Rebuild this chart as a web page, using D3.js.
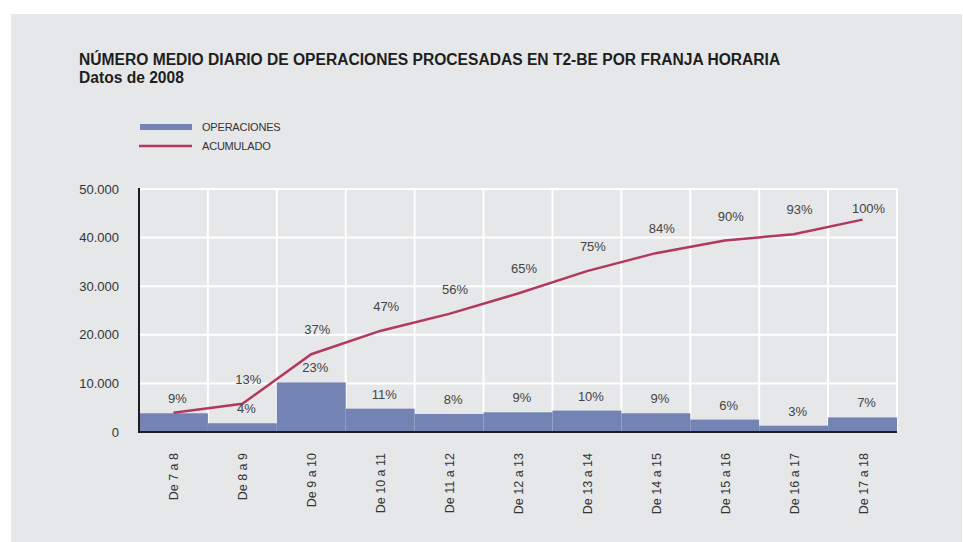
<!DOCTYPE html>
<html>
<head>
<meta charset="utf-8">
<script src="https://cdn.jsdelivr.net/npm/d3@7"></script>
<style>
  body { margin: 0; background: #fff; }
  svg { display: block; font-family: "Liberation Sans", Arial, sans-serif; }
</style>
</head>
<body>
<svg id="chart" width="963" height="542"></svg>
<script>
const categories = ["De 7 a 8", "De 8 a 9", "De 9 a 10", "De 10 a 11", "De 11 a 12", "De 12 a 13",
    "De 13 a 14", "De 14 a 15", "De 15 a 16", "De 16 a 17", "De 17 a 18"];
const operaciones = [3850, 1800, 10200, 4800, 3700, 4050, 4400, 3850, 2550, 1300, 3000];
const acumulado = [3950, 5800, 16000, 20800, 24300, 28500, 33100, 36800, 39400, 40700, 43700];
const pctOperaciones = ["9%", "4%", "23%", "11%", "8%", "9%", "10%", "9%", "6%", "3%", "7%"];
const pctAcumulado = ["", "13%", "37%", "47%", "56%", "65%", "75%", "84%", "90%", "93%", "100%"];
const yTicks = [0, 10000, 20000, 30000, 40000, 50000];

const svg = d3.select("#chart");
const margin = { top: 189, left: 139, right: 66, bottom: 110 };
const width = 963, height = 542;
const chartWidth = width - margin.left - margin.right;
const chartHeight = height - margin.top - margin.bottom;

svg.append("rect")
    .attr("x", 11).attr("y", 14)
    .attr("width", 951).attr("height", 528)
    .attr("fill", "#e6e7e9");

// titles
svg.append("text").attr("x", 79).attr("y", 65)
    .attr("font-size", 15.6).attr("font-weight", "bold").attr("fill", "#1e1e1e")
    .text("NÚMERO MEDIO DIARIO DE OPERACIONES PROCESADAS EN T2-BE POR FRANJA HORARIA");
svg.append("text").attr("x", 79).attr("y", 83)
    .attr("font-size", 15.6).attr("font-weight", "bold").attr("fill", "#1e1e1e")
    .text("Datos de 2008");

// legend
const legend = svg.append("g").attr("font-size", 11).attr("fill", "#333");
legend.append("rect").attr("x", 140).attr("y", 124).attr("width", 52).attr("height", 6).attr("fill", "#7383b4");
legend.append("text").attr("x", 202).attr("y", 131).attr("letter-spacing", -0.2).text("OPERACIONES");
legend.append("line").attr("x1", 139).attr("x2", 192).attr("y1", 146).attr("y2", 146)
    .attr("stroke", "#b3385f").attr("stroke-width", 2.5);
legend.append("text").attr("x", 202).attr("y", 150).attr("letter-spacing", -0.2).text("ACUMULADO");

const chartArea = svg.append("g")
    .attr("transform", `translate(${margin.left},${margin.top})`);

const xScale = d3.scaleBand().domain(categories).range([0, chartWidth]).padding(0);
const yScale = d3.scaleLinear().domain([0, 50000]).range([chartHeight, 0]);

// grid
chartArea.selectAll(".hgrid")
    .data(yTicks.slice(1))
    .join("line")
    .attr("class", "hgrid")
    .attr("x1", 0).attr("x2", chartWidth)
    .attr("y1", d => yScale(d)).attr("y2", d => yScale(d))
    .attr("stroke", "#fff").attr("stroke-width", 2);
chartArea.selectAll(".vgrid")
    .data(categories)
    .join("line")
    .attr("class", "vgrid")
    .attr("x1", d => xScale(d) + xScale.bandwidth()).attr("x2", d => xScale(d) + xScale.bandwidth())
    .attr("y1", -1).attr("y2", chartHeight)
    .attr("stroke", "#fff").attr("stroke-width", 2);

// bars
chartArea.selectAll(".bar")
    .data(operaciones)
    .join("rect")
    .attr("class", "bar")
    .attr("x", (d, i) => xScale(categories[i]))
    .attr("y", d => yScale(d))
    .attr("width", xScale.bandwidth())
    .attr("height", d => chartHeight - yScale(d))
    .attr("fill", "#7383b4");

// axes
const yAxis = d3.axisLeft(yScale).tickValues(yTicks).tickSize(0).tickPadding(20)
    .tickFormat(d => d3.format(",")(d).replace(/,/g, "."));
const yAxisGroup = chartArea.append("g").call(yAxis);
yAxisGroup.select(".domain").remove();
yAxisGroup.selectAll("text").attr("font-size", 13).attr("fill", "#333")
    .attr("font-family", "Liberation Sans, Arial, sans-serif");

chartArea.append("line").attr("x1", 0).attr("x2", 0).attr("y1", -1).attr("y2", chartHeight + 1)
    .attr("stroke", "#1e1e1e").attr("stroke-width", 2);
chartArea.append("line").attr("x1", -1).attr("x2", chartWidth).attr("y1", chartHeight).attr("y2", chartHeight)
    .attr("stroke", "#1e1e1e").attr("stroke-width", 2);

const xAxis = d3.axisBottom(xScale).tickSize(0).tickPadding(0);
const xAxisGroup = chartArea.append("g")
    .attr("transform", `translate(0,${chartHeight})`)
    .call(xAxis);
xAxisGroup.select(".domain").remove();
xAxisGroup.selectAll("text")
    .attr("font-size", 12.5).attr("fill", "#333")
    .attr("font-family", "Liberation Sans, Arial, sans-serif")
    .attr("text-anchor", "end")
    .attr("dy", null)
    .attr("dominant-baseline", "central")
    .attr("transform", "translate(1,21) rotate(-90)");

// cumulative line
const line = d3.line()
    .x((d, i) => xScale(categories[i]) + xScale.bandwidth() / 2)
    .y(d => yScale(d));
chartArea.append("path")
    .datum(acumulado)
    .attr("d", line)
    .attr("fill", "none")
    .attr("stroke", "#b3385f")
    .attr("stroke-width", 2.5);

// labels
chartArea.selectAll(".bar-label")
    .data(operaciones)
    .join("text")
    .attr("class", "bar-label")
    .attr("x", (d, i) => xScale(categories[i]) + xScale.bandwidth() / 2 + 4)
    .attr("y", d => yScale(d) - 10)
    .attr("text-anchor", "middle")
    .attr("font-size", 13).attr("fill", "#444")
    .text((d, i) => pctOperaciones[i]);

chartArea.selectAll(".cum-label")
    .data(acumulado)
    .join("text")
    .attr("class", "cum-label")
    .attr("x", (d, i) => xScale(categories[i]) + xScale.bandwidth() / 2 + 6)
    .attr("y", d => Math.max(yScale(d) - 20, yScale(45000)))
    .attr("text-anchor", "middle")
    .attr("font-size", 13).attr("fill", "#444")
    .text((d, i) => pctAcumulado[i]);
</script>
</body>
</html>
